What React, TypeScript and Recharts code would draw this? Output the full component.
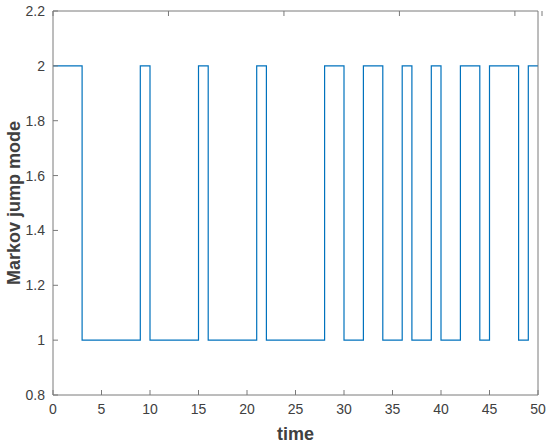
import React from 'react';
import { LineChart, Line, XAxis, YAxis } from 'recharts';

// switching instants and the mode held from each instant on
const switchTimes = [0, 3, 9, 10, 15, 16, 21, 22, 28, 30, 32, 34, 36, 37, 39, 40, 42, 44, 45, 48, 49, 50];
const modes = [2, 1, 2, 1, 2, 1, 2, 1, 2, 1, 2, 1, 2, 1, 2, 1, 2, 1, 2, 1, 2, 2];

const xTicks = [0, 5, 10, 15, 20, 25, 30, 35, 40, 45, 50];
const yTicks = [0.8, 1, 1.2, 1.4, 1.6, 1.8, 2, 2.2];

const data = switchTimes.map((t, i) => ({ t, mode: modes[i] }));

const axisColor = '#7a7a7a';
const textColor = '#404040';
const font = '"Liberation Sans", Arial, sans-serif';
const TICK = 5;
const GAP = 8;

const fmtY = (v: number) => String(Number(v.toFixed(1)));

// inward-pointing ticks, MATLAB style
const BottomTick = (p: any) => (
  <g>
    <line x1={p.x} x2={p.x} y1={p.y - GAP} y2={p.y - GAP - TICK} stroke={axisColor} />
    <text x={p.x} y={p.y} dy="0.75em" textAnchor="middle" fill={textColor} fontSize={14}>
      {p.payload.value}
    </text>
  </g>
);

const LeftTick = (p: any) => (
  <g>
    <line x1={p.x + GAP} x2={p.x + GAP + TICK} y1={p.y} y2={p.y} stroke={axisColor} />
    <text x={p.x} y={p.y} dy="0.36em" textAnchor="end" fill={textColor} fontSize={14}>
      {fmtY(p.payload.value)}
    </text>
  </g>
);

const TopTick = (p: any) => (
  <line x1={p.x} x2={p.x} y1={p.y} y2={p.y + TICK} stroke={axisColor} />
);

const RightTick = (p: any) => (
  <line x1={p.x - TICK} x2={p.x} y1={p.y} y2={p.y} stroke={axisColor} />
);

const App: React.FC = () => {
  return (
    <div style={{ position: 'absolute', left: 0, top: 0, width: 550, height: 445, background: '#fff' }}>
      <LineChart
        width={550}
        height={445}
        data={data}
        margin={{ top: 10, right: 11, left: 0, bottom: 0 }}
        style={{ fontFamily: font }}
      >
        <XAxis
          dataKey="t"
          type="number"
          domain={[0, 50]}
          ticks={xTicks}
          height={50}
          stroke={axisColor}
          tickLine={false}
          tickSize={0}
          tickMargin={GAP}
          tick={BottomTick}
          label={{ value: 'time', position: 'insideBottom', offset: 5, fill: textColor, fontSize: 18, fontWeight: 'bold' }}
        />
        <XAxis
          xAxisId="top"
          orientation="top"
          type="number"
          domain={[0, 50]}
          ticks={xTicks}
          height={1}
          stroke={axisColor}
          tickLine={false}
          tickSize={0}
          tickMargin={0}
          tick={TopTick}
        />
        <YAxis
          type="number"
          domain={[0.8, 2.2]}
          ticks={yTicks}
          width={53}
          stroke={axisColor}
          tickLine={false}
          tickSize={0}
          tickMargin={GAP}
          tick={LeftTick}
          label={{ value: 'Markov jump mode', angle: -90, position: 'center', dx: -13, fill: textColor, fontSize: 18, fontWeight: 'bold' }}
        />
        <YAxis
          yAxisId="right"
          orientation="right"
          type="number"
          domain={[0.8, 2.2]}
          ticks={yTicks}
          width={1}
          stroke={axisColor}
          tickLine={false}
          tickSize={0}
          tickMargin={0}
          tick={RightTick}
        />
        <Line
          type="stepAfter"
          dataKey="mode"
          stroke="#0072BD"
          strokeWidth={1.2}
          dot={false}
          isAnimationActive={false}
        />
      </LineChart>
    </div>
  );
};

export default App;
